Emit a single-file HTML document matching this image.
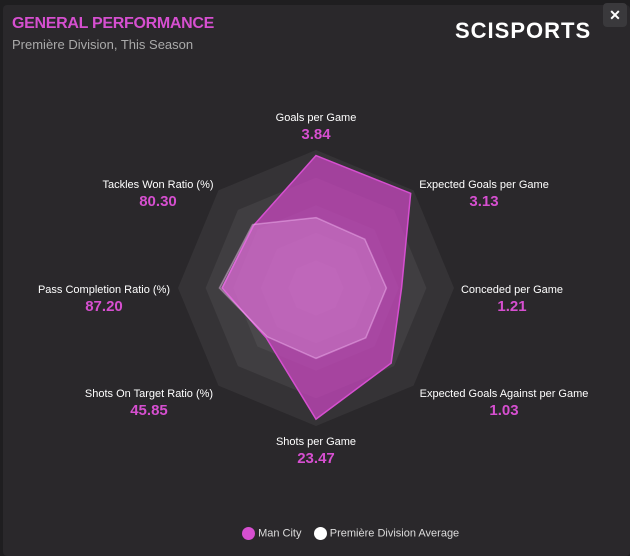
<!DOCTYPE html>
<html><head><meta charset="utf-8"><style>
body{margin:0;background:#1f1e20;width:630px;height:556px;overflow:hidden;font-family:"Liberation Sans",sans-serif}
#card{position:absolute;left:3px;top:5px;width:627px;height:551px;background:#2a282b;border-radius:4px}
.t{position:absolute;color:#fff}
</style></head><body>
<div id="card"></div>
<div class="t" style="left:12px;top:15px;font-size:16px;font-weight:bold;color:#d64fd0;letter-spacing:-0.3px">GENERAL PERFORMANCE</div>
<div class="t" style="left:12px;top:37px;font-size:13px;color:#aaa">Première Division, This Season</div>
<div class="t" style="left:455px;top:18px;font-size:22px;font-weight:bold;letter-spacing:1px">SCISPORTS</div>
<div class="t" style="left:603px;top:3px;width:24px;height:24px;background:#3a393c;border-radius:4px;text-align:center;line-height:24px;font-size:14px;font-weight:bold">✕</div>
<svg id="radar" width="630" height="556" style="position:absolute;left:0;top:0"></svg>
<div class="t" style="left:242px;top:527px;font-size:11px;color:#ddd">
<span style="display:inline-block;width:13px;height:13px;border-radius:50%;background:#d64fd0;vertical-align:middle"></span> <span style="vertical-align:middle">Man City</span>&nbsp;&nbsp;&nbsp;
<span style="display:inline-block;width:13px;height:13px;border-radius:50%;background:#fff;vertical-align:middle"></span> <span style="vertical-align:middle">Première Division Average</span></div>
<script>
const categories=["Goals per Game","Expected Goals per Game","Conceded per Game","Expected Goals Against per Game","Shots per Game","Shots On Target Ratio (%)","Pass Completion Ratio (%)","Tackles Won Ratio (%)"];
const valueLabels=["3.84","3.13","1.21","1.03","23.47","45.85","87.20","80.30"];
const manCity=[0.96,0.97,0.62,0.77,0.95,0.51,0.68,0.64];
const average=[0.51,0.5,0.51,0.51,0.51,0.5,0.7,0.65];
const labelPos=[[316,117],[484,184],[512,289],[504,393],[316,441],[149,393],[104,289],[158,184]];
const cx=316,cy=288,R=138,NS="http://www.w3.org/2000/svg";
const svg=document.getElementById('radar');
function pt(i,f){const a=-Math.PI/2+i*Math.PI/4;return [cx+Math.cos(a)*R*f,cy+Math.sin(a)*R*f];}
function poly(vals,fill,stroke,name){const p=document.createElementNS(NS,'polygon');
p.setAttribute('points',vals.map((v,i)=>pt(i,v).join(',')).join(' '));
p.setAttribute('fill',fill);p.setAttribute('stroke',stroke);p.setAttribute('stroke-width','1.5');


svg.appendChild(p);}
for(let k=5;k>=1;k--){poly(categories.map(()=>k/5),'rgba(255,255,255,0.055)','none','grid-ring');}
poly(manCity,'rgba(205,70,195,0.72)','#d64fd0','man-city-area');
poly(average,'rgba(255,200,255,0.22)','rgba(255,200,255,0.4)','average-area');
categories.forEach((c,i)=>{const [x,y]=labelPos[i];
const t=document.createElementNS(NS,'text');t.setAttribute('x',x);t.setAttribute('y',y+4);t.setAttribute('text-anchor','middle');
t.setAttribute('fill','#fff');t.setAttribute('font-size','11');t.setAttribute('font-family','Liberation Sans, sans-serif');t.textContent=c;


svg.appendChild(t);
const v=document.createElementNS(NS,'text');v.setAttribute('x',x);v.setAttribute('y',y+22);v.setAttribute('text-anchor','middle');
v.setAttribute('fill','#d64fd0');v.setAttribute('font-size','15');v.setAttribute('font-weight','bold');v.setAttribute('font-family','Liberation Sans, sans-serif');v.textContent=valueLabels[i];


svg.appendChild(v);});
</script>
</body></html>
